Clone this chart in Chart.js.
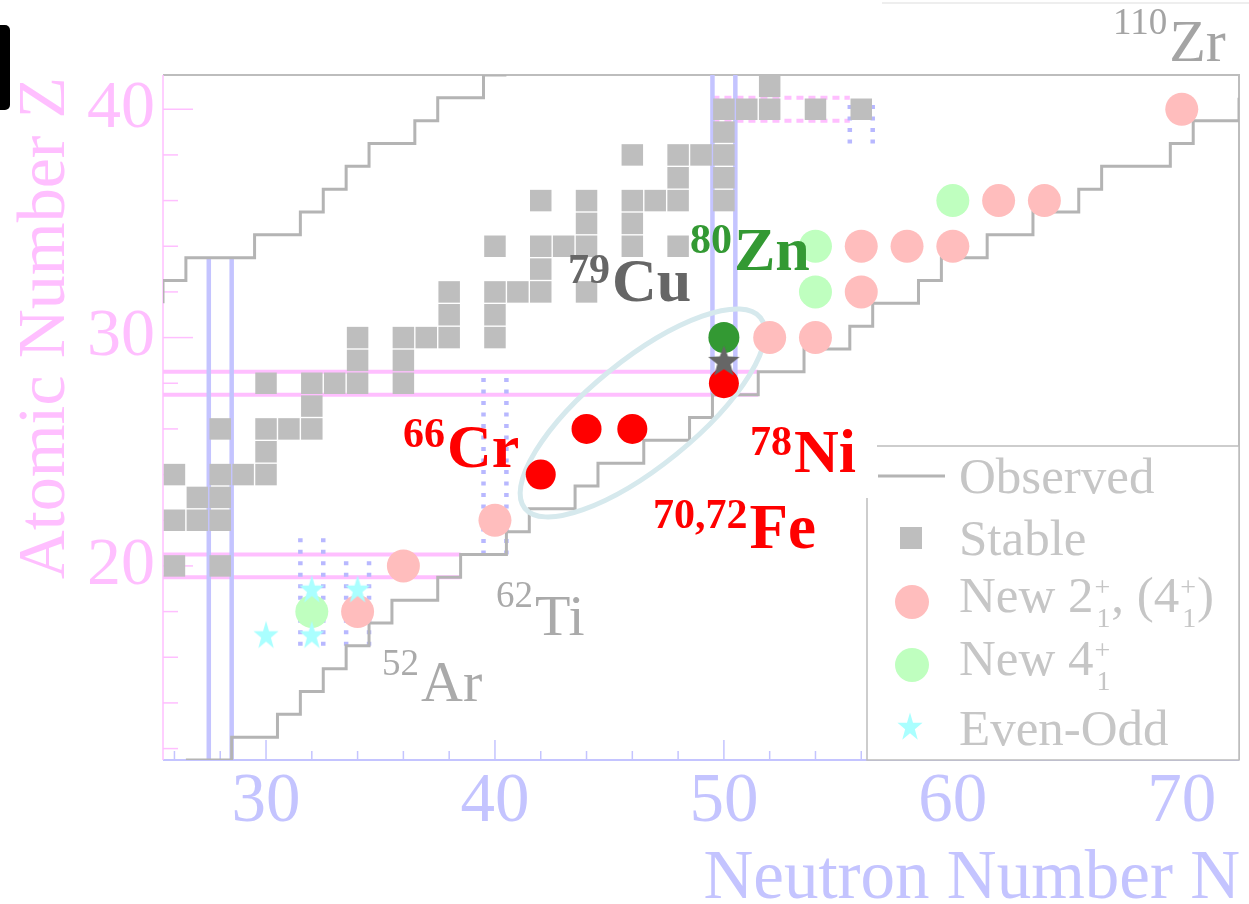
<!DOCTYPE html>
<html>
<head>
<meta charset="utf-8">
<script src="https://cdn.jsdelivr.net/npm/chart.js@4/dist/chart.umd.min.js"></script>
<style>
  html, body { margin: 0; padding: 0; background: #ffffff; overflow: hidden; }
  #wrap { position: relative; width: 1249px; height: 904px; }
  #wrap canvas { display: block; }
</style>
</head>
<body>
<div id="wrap"><canvas id="chart"></canvas></div>
<script>
// ---- Nuclide data, [N, Z] pairs ----
const stableNuclei = [
  [26,20],[28,20],
  [26,22],[27,22],[28,22],
  [27,23],[28,23],
  [26,24],[28,24],[29,24],[30,24],
  [30,25],
  [28,26],[30,26],[31,26],[32,26],
  [32,27],
  [30,28],[32,28],[33,28],[34,28],[36,28],
  [34,29],[36,29],
  [34,30],[36,30],[37,30],[38,30],[40,30],
  [38,31],[40,31],
  [38,32],[40,32],[41,32],[42,32],[44,32],
  [42,33],
  [40,34],[42,34],[43,34],[44,34],[46,34],[48,34],
  [44,35],[46,35],
  [42,36],[44,36],[46,36],[47,36],[48,36],[50,36],
  [48,37],[50,37],
  [46,38],[48,38],[49,38],[50,38],
  [50,39],
  [50,40],[51,40],[52,40],[54,40],[56,40],
  [52,41]
];

// Limits of observed nuclei (cell edges)
const protonSideLimit = [
  [25.5,31.5],[25.5,32.5],[26.5,32.5],[26.5,33.5],[29.5,33.5],[29.5,34.5],
  [31.5,34.5],[31.5,35.5],[32.5,35.5],[32.5,36.5],[33.5,36.5],[33.5,37.5],
  [34.5,37.5],[34.5,38.5],[36.5,38.5],[36.5,39.5],[37.5,39.5],[37.5,40.5],
  [39.5,40.5],[39.5,41.5],[40.5,41.5]
];
const neutronSideLimit = [
  [26.5,11.5],[28.5,11.5],[28.5,12.5],[30.5,12.5],[30.5,13.5],[31.5,13.5],
  [31.5,14.5],[32.5,14.5],[32.5,15.5],[33.5,15.5],[33.5,16.5],[34.5,16.5],
  [34.5,17.5],[35.5,17.5],[35.5,18.5],[37.5,18.5],[37.5,19.5],[38.5,19.5],
  [38.5,20.5],[40.5,20.5],[40.5,21.5],[41.5,21.5],[41.5,22.5],[43.5,22.5],
  [43.5,23.5],[44.5,23.5],[44.5,24.5],[46.5,24.5],[46.5,25.5],[48.5,25.5],
  [48.5,26.5],[49.5,26.5],[49.5,27.5],[51.5,27.5],[51.5,28.5],[53.5,28.5],
  [53.5,29.5],[55.5,29.5],[55.5,30.5],[56.5,30.5],[56.5,31.5],[58.5,31.5],
  [58.5,32.5],[59.5,32.5],[59.5,33.5],[61.5,33.5],[61.5,34.5],[63.5,34.5],
  [63.5,35.5],[65.5,35.5],[65.5,36.5],[66.5,36.5],[66.5,37.5],[69.5,37.5],
  [69.5,38.5],[70.5,38.5],[70.5,39.5],[72.5,39.5],[72.5,40.5]
];

// Shell closures: [Z, N from, N to] and [N, Z from, Z to]
const zShellSolid  = [[19.5,25.5,38.5],[20.5,25.5,38.5],[27.5,25.5,51.5],[28.5,25.5,51.5]];
const zShellDotted = [[39.5,49.5,55.5],[40.5,49.5,55.5]];
const nShellSolid  = [[27.5,11.5,33.5],[28.5,11.5,33.5],[49.5,27.5,41.5],[50.5,27.5,41.5]];
const nShellDotted = [[31.5,16.5,21.5],[32.5,16.5,21.5],[33.5,16.5,20.5],[34.5,16.5,20.5],
                      [39.5,20.5,28.5],[40.5,20.5,28.5],[55.5,38.5,40.5],[56.5,38.5,40.5]];

// Measured states
const new2Plus   = [[34,18],[36,20],[40,22],[52,30],[54,30],[56,32],[56,34],[58,34],[60,34],[62,36],[64,36],[70,40]];
const new4Plus   = [[32,18],[54,32],[54,34],[60,36]];
const evenOdd    = [[30,17],[32,17],[32,19],[34,19],[50,29]];
const keyNuclei  = [[42,24],[44,26],[46,26],[50,28]];   // 66Cr, 70,72Fe, 78Ni
const zinc80     = [[50,30]];
const copper79   = [[50,29]];

// Axis ticks
const nTickLabels = [30,40,50,60,70];
const zTickLabels = [20,30,40];
const nTickMarks  = [26,28,30,32,34,36,38,40,42,44,46,48,50,52,54,56];
const zTickMarks  = [12,14,16,18,20,22,24,26,28,30,32,34,36,38,40];

// ---- styling ----
const SERIF = '"Liberation Serif", "Times New Roman", serif';
const PINK = '#ffbfff';
const BLUE = '#c4c4ff';
const BLUE_DOT = '#b8b8ff';
const FRAME_GRAY = '#bdbdbd';
const EDGE_GRAY = '#b4b4b4';
const STABLE_GRAY = '#bebebe';
const SALMON = '#ffbdbd';
const MINT = '#bfffbf';
const CYAN = '#aaffff';
const LEGEND_TEXT = '#c6c6c6';

const pts = arr => arr.map(([n, z]) => ({ x: n, y: z }));

function starCanvas(outer, inner, fill, sx) {
  const s = Math.ceil(outer * 2 + 6);
  const c = document.createElement('canvas');
  c.width = s; c.height = s;
  const g = c.getContext('2d');
  g.translate(s / 2, s / 2 + outer * 0.1);
  g.scale(sx, 1);
  g.beginPath();
  for (let i = 0; i < 10; i++) {
    const r = i % 2 ? inner : outer;
    const a = -Math.PI / 2 + i * Math.PI / 5;
    g.lineTo(r * Math.cos(a), r * Math.sin(a));
  }
  g.closePath();
  g.fillStyle = fill;
  g.fill();
  return c;
}
const cyanStar = starCanvas(15, 5.8, CYAN, 0.88);
const grayStar = starCanvas(16.5, 7, '#666666', 1);

function lineSet(points, color, width, dash, order) {
  return {
    type: 'scatter', data: pts(points), showLine: true, fill: false,
    borderColor: color, borderWidth: width, borderDash: dash, borderCapStyle: 'butt',
    borderJoinStyle: 'miter', pointRadius: 0, tension: 0, order: order
  };
}

const datasets = [];
zShellSolid.forEach(([z, a, b]) => datasets.push(lineSet([[a, z], [b, z]], PINK, 4, [], 60)));
zShellDotted.forEach(([z, a, b]) => datasets.push(lineSet([[a, z], [b, z]], PINK, 4, [7, 5], 60)));
nShellSolid.forEach(([n, a, b]) => datasets.push(lineSet([[n, a], [n, b]], BLUE, 4.5, [], 59)));
nShellDotted.forEach(([n, a, b]) => datasets.push(lineSet([[n, a], [n, b]], BLUE_DOT, 4.5, [4, 7.5], 59)));

datasets.push({
  label: 'Stable', data: pts(stableNuclei), pointStyle: 'rect', pointRadius: 15.2,
  backgroundColor: STABLE_GRAY, borderWidth: 0, order: 50
});
datasets.push(lineSet(protonSideLimit, EDGE_GRAY, 3, [], 40));
datasets.push(lineSet(neutronSideLimit, EDGE_GRAY, 3, [], 40));
datasets.push({
  label: 'New 2+', data: pts(new2Plus), pointStyle: 'circle', pointRadius: 16.5,
  backgroundColor: SALMON, borderWidth: 0, order: 30, ellipseBelow: true
});
datasets.push({
  label: 'New 4+', data: pts(new4Plus), pointStyle: 'circle', pointRadius: 16.5,
  backgroundColor: MINT, borderWidth: 0, order: 29
});
datasets.push({
  label: 'Even-Odd', data: pts(evenOdd), pointStyle: cyanStar, order: 28
});
datasets.push({
  label: 'Key', data: pts(keyNuclei), pointStyle: 'circle', pointRadius: 15,
  backgroundColor: '#ff0000', borderWidth: 0, order: 27
});
datasets.push({
  label: 'Zn80', data: pts(zinc80), pointStyle: 'circle', pointRadius: 15.5,
  backgroundColor: '#339933', borderWidth: 0, order: 26
});
datasets.push({
  label: 'Cu79', data: pts(copper79), pointStyle: grayStar, order: 25
});

// Frame, inward ticks and the highlight ellipse
const framePlugin = {
  id: 'frame',
  beforeDatasetsDraw(chart) {
    const { ctx, chartArea: { left, right, top, bottom } } = chart;
    const xs = chart.scales.x, ys = chart.scales.y;
    ctx.save();
    ctx.lineCap = 'butt';
    ctx.strokeStyle = FRAME_GRAY; ctx.lineWidth = 2;
    ctx.beginPath(); ctx.moveTo(left, top); ctx.lineTo(right, top); ctx.lineTo(right, bottom); ctx.stroke();
    ctx.strokeStyle = BLUE; ctx.lineWidth = 2;
    ctx.beginPath(); ctx.moveTo(left, bottom); ctx.lineTo(right, bottom); ctx.stroke();
    ctx.lineWidth = 1.5;
    nTickMarks.forEach(n => {
      const x = xs.getPixelForValue(n);
      const len = nTickLabels.includes(n) ? 20 : 9;
      ctx.beginPath(); ctx.moveTo(x, bottom); ctx.lineTo(x, bottom - len); ctx.stroke();
    });
    ctx.strokeStyle = PINK; ctx.lineWidth = 1.5;
    ctx.beginPath(); ctx.moveTo(left, top); ctx.lineTo(left, bottom); ctx.stroke();
    zTickMarks.forEach(z => {
      const y = ys.getPixelForValue(z);
      const len = zTickLabels.includes(z) ? 30 : 15;
      ctx.beginPath(); ctx.moveTo(left, y); ctx.lineTo(left + len, y); ctx.stroke();
    });
    ctx.restore();
  },
  beforeDatasetDraw(chart, args) {
    if (!chart.data.datasets[args.index].ellipseBelow) return;
    const { ctx } = chart;
    const xs = chart.scales.x, ys = chart.scales.y;
    const cx = xs.getPixelForValue(46.45), cy = ys.getPixelForValue(26.7);
    const unit = xs.getPixelForValue(1) - xs.getPixelForValue(0);
    ctx.save();
    ctx.strokeStyle = '#d6e9ed';
    ctx.lineWidth = 5;
    ctx.beginPath();
    ctx.ellipse(cx, cy, 6.62 * unit, 2.33 * unit, -39 * Math.PI / 180, 0, Math.PI * 2);
    ctx.stroke();
    ctx.restore();
  }
};

function isotope(ctx, x, baseline, supBase, sup, sym, color, weight, supSize, size) {
  ctx.fillStyle = color;
  ctx.textAlign = 'left';
  ctx.textBaseline = 'alphabetic';
  ctx.font = `${weight} ${supSize}px ${SERIF}`;
  ctx.fillText(sup, x, supBase);
  const w = ctx.measureText(sup).width;
  ctx.font = `${weight} ${size}px ${SERIF}`;
  ctx.fillText(sym, x + w + 2, baseline);
}

function stateLabel(ctx, x, baseline, parts) {
  // parts: plain strings, or [superscript, subscript] pairs
  let cx = x;
  parts.forEach(p => {
    if (typeof p === 'string') {
      ctx.font = `51px ${SERIF}`;
      ctx.fillText(p, cx, baseline);
      cx += ctx.measureText(p).width;
    } else {
      ctx.font = `28px ${SERIF}`;
      ctx.fillText(p[0], cx + 1, baseline - 16);
      ctx.fillText(p[1], cx + 3, baseline + 15);
      cx += Math.max(ctx.measureText(p[0]).width, ctx.measureText(p[1]).width) + 2;
    }
  });
}

const overlayPlugin = {
  id: 'overlay',
  afterDraw(chart) {
    const { ctx, chartArea: { right, bottom } } = chart;
    ctx.save();

    // axis titles
    ctx.fillStyle = BLUE;
    ctx.font = `69px ${SERIF}`;
    ctx.textAlign = 'right';
    ctx.textBaseline = 'alphabetic';
    ctx.fillText('Neutron Number N', right + 1, 898);

    ctx.save();
    ctx.translate(64, 77);
    ctx.rotate(-Math.PI / 2);
    ctx.fillStyle = PINK;
    ctx.font = `68px ${SERIF}`;
    ctx.textAlign = 'right';
    ctx.fillText('Atomic Number Z', 0, 0);
    ctx.restore();

    // legend box
    const lx = right - 372, ly = bottom - 314;
    ctx.fillStyle = '#ffffff';
    ctx.fillRect(lx, ly, right - lx, bottom - ly);
    ctx.strokeStyle = FRAME_GRAY; ctx.lineWidth = 1.5;
    ctx.strokeRect(lx, ly, right - lx, bottom - ly);

    ctx.strokeStyle = EDGE_GRAY; ctx.lineWidth = 3;
    ctx.beginPath(); ctx.moveTo(lx + 11, ly + 30); ctx.lineTo(lx + 78, ly + 30); ctx.stroke();
    ctx.fillStyle = STABLE_GRAY;
    ctx.fillRect(lx + 33, ly + 81, 22, 22);
    ctx.fillStyle = SALMON;
    ctx.beginPath(); ctx.arc(lx + 45, ly + 156, 17, 0, Math.PI * 2); ctx.fill();
    ctx.fillStyle = MINT;
    ctx.beginPath(); ctx.arc(lx + 45, ly + 219, 17, 0, Math.PI * 2); ctx.fill();
    ctx.drawImage(cyanStar, lx + 43 - cyanStar.width / 2, ly + 280 - cyanStar.height / 2);

    ctx.fillStyle = LEGEND_TEXT;
    ctx.textAlign = 'left';
    ctx.textBaseline = 'alphabetic';
    const tx = lx + 92;
    stateLabel(ctx, tx, ly + 47, ['Observed']);
    stateLabel(ctx, tx, ly + 109, ['Stable']);
    stateLabel(ctx, tx, ly + 166, ['New 2', ['+', '1'], ', (4', ['+', '1'], ')']);
    stateLabel(ctx, tx, ly + 229, ['New 4', ['+', '1']]);
    stateLabel(ctx, tx, ly + 299, ['Even-Odd']);

    // label plate for 78Ni sits over the legend corner
    ctx.fillStyle = '#ffffff';
    ctx.fillRect(735, 418, lx + 10 - 735, ly + 52 - 418);

    // nuclide labels
    isotope(ctx, 403, 467, 447, '66', 'Cr', '#ff0000', 'bold', 42, 62);
    isotope(ctx, 750, 472, 455, '78', 'Ni', '#ff0000', 'bold', 42, 62);
    isotope(ctx, 653, 548, 528, '70,72', 'Fe', '#ff0000', 'bold', 42, 63);
    isotope(ctx, 690, 270, 253, '80', 'Zn', '#339933', 'bold', 42, 62);
    isotope(ctx, 568, 301, 283, '79', 'Cu', '#666666', 'bold', 42, 62);
    isotope(ctx, 382, 701, 675, '52', 'Ar', '#aaaaaa', 'normal', 37, 58);
    isotope(ctx, 496, 635, 607, '62', 'Ti', '#aaaaaa', 'normal', 37, 58);
    isotope(ctx, 1113, 61, 34, '110', 'Zr', '#a4a4a4', 'normal', 37, 60);

    // page furniture at the top edge
    ctx.fillStyle = '#000000';
    ctx.beginPath(); ctx.roundRect(-10, 25, 20, 85, 5); ctx.fill();
    ctx.strokeStyle = '#eeeeee'; ctx.lineWidth = 2;
    ctx.beginPath(); ctx.moveTo(882, 3); ctx.lineTo(1249, 3); ctx.stroke();

    ctx.restore();
  }
};

new Chart(document.getElementById('chart'), {
  type: 'scatter',
  data: { datasets },
  options: {
    responsive: true,
    maintainAspectRatio: false,
    devicePixelRatio: 1,
    animation: false,
    events: [],
    layout: { autoPadding: false, padding: { left: 0, top: 75, right: 10, bottom: 0 } },
    plugins: { legend: { display: false }, tooltip: { enabled: false } },
    scales: {
      x: {
        type: 'linear', position: 'bottom', min: 25.5, max: 72.5,
        grid: { display: false, drawTicks: false }, border: { display: false },
        afterBuildTicks: s => { s.ticks = nTickLabels.map(v => ({ value: v })); },
        afterFit: s => { s.height = 144; },
        ticks: {
          autoSkip: false, maxRotation: 0, minRotation: 0, padding: 8, color: BLUE,
          font: { family: SERIF, size: 69, lineHeight: 1 }
        }
      },
      y: {
        type: 'linear', position: 'left', min: 11.5, max: 41.5,
        grid: { display: false, drawTicks: false }, border: { display: false },
        afterBuildTicks: s => { s.ticks = zTickLabels.map(v => ({ value: v })); },
        afterFit: s => { s.width = 163; },
        ticks: {
          autoSkip: false, padding: 8, color: PINK,
          font: { family: SERIF, size: 68, lineHeight: 1 }
        }
      }
    }
  },
  plugins: [framePlugin, overlayPlugin]
});
</script>
</body>
</html>
